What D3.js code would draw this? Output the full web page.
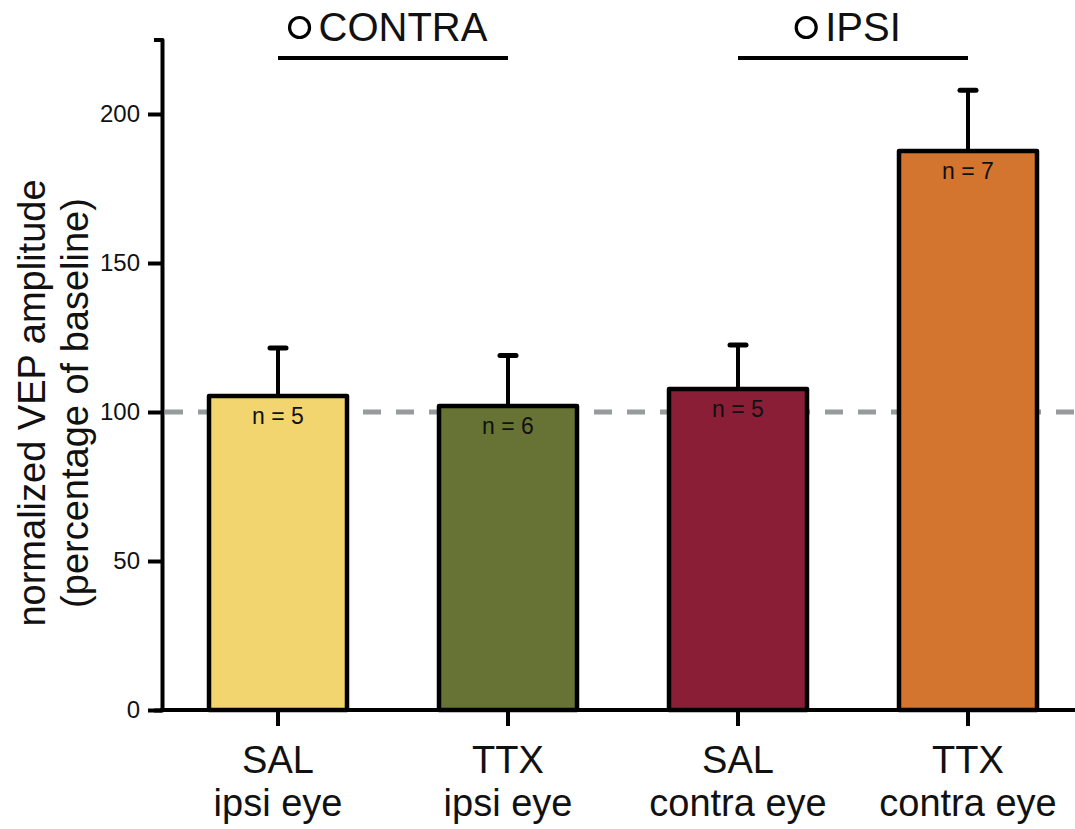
<!DOCTYPE html>
<html>
<head>
<meta charset="utf-8">
<script src="https://cdn.jsdelivr.net/npm/d3@7"></script>
<style>
  html, body { margin: 0; padding: 0; background: #fff; }
  svg { display: block; font-family: "Liberation Sans", Arial, Helvetica, sans-serif; }
</style>
</head>
<body>
<svg id="chart" width="1075" height="829"></svg>
<script>
// Treatment and recorded eye for each bar
const treatments = ["SAL", "TTX", "SAL", "TTX"];
const eyes = ["ipsi eye", "ipsi eye", "contra eye", "contra eye"];
// Normalized VEP amplitude (% of baseline), mean and SEM
const means = [105.4, 102.0, 107.7, 187.6];
const sems = [16.1, 17.0, 14.8, 20.4];
const nCounts = [5, 6, 5, 7];
const barColors = ["#f3d570", "#677334", "#8b1e37", "#d3742f"];
// Hemisphere groups: label and the bars each one spans
const hemiLabels = ["CONTRA", "IPSI"];
const hemiSpans = [[0, 1], [2, 3]];
const yTicks = [0, 50, 100, 150, 200];
const baseline = 100;

const svg = d3.select("#chart");
const W = 1075;
const ids = d3.range(treatments.length);

const x = d3.scaleBand().domain(ids).range([163, 1083]).paddingInner(0.4).paddingOuter(0.2);
const y = d3.scaleLinear().domain([0, 225]).range([710, 39.5]);
const cx = i => x(i) + x.bandwidth() / 2;

// Baseline reference line
svg.append("line")
  .attr("x1", 165).attr("x2", W)
  .attr("y1", y(baseline)).attr("y2", y(baseline))
  .attr("stroke", "#979b9b").attr("stroke-width", 5)
  .attr("stroke-dasharray", "18 15");

// Bars
svg.selectAll("rect.bar").data(ids).join("rect")
  .attr("class", "bar")
  .attr("x", i => x(i))
  .attr("width", x.bandwidth())
  .attr("y", i => y(means[i]))
  .attr("height", i => y(0) - y(means[i]))
  .attr("fill", i => barColors[i])
  .attr("stroke", "#000").attr("stroke-width", 4.5)
  .attr("stroke-linejoin", "round");

// Error bars (upper SEM)
const err = svg.append("g").attr("stroke", "#000").attr("stroke-linecap", "round");
err.selectAll("line.stem").data(ids).join("line")
  .attr("class", "stem")
  .attr("x1", cx).attr("x2", cx)
  .attr("y1", i => y(means[i])).attr("y2", i => y(means[i] + sems[i]))
  .attr("stroke-width", 4);
err.selectAll("line.cap").data(ids).join("line")
  .attr("class", "cap")
  .attr("x1", i => cx(i) - 8).attr("x2", i => cx(i) + 8)
  .attr("y1", i => y(means[i] + sems[i])).attr("y2", i => y(means[i] + sems[i]))
  .attr("stroke-width", 5);

// Sample sizes inside the bars
svg.selectAll("text.n").data(ids).join("text")
  .attr("class", "n")
  .attr("x", cx)
  .attr("y", i => y(means[i]) + 28)
  .attr("text-anchor", "middle")
  .attr("font-size", 23)
  .attr("fill", "#111")
  .text(i => "n = " + nCounts[i]);

// Y axis
const yAxis = svg.append("g")
  .attr("transform", "translate(162,0)")
  .call(d3.axisLeft(y).tickValues(yTicks).tickSize(14).tickSizeOuter(8).tickPadding(8));
yAxis.select(".domain").attr("stroke-width", 4).attr("stroke-linejoin", "round");
yAxis.selectAll(".tick line").attr("stroke-width", 4);
yAxis.selectAll(".tick text")
  .attr("font-family", "Liberation Sans, Arial, sans-serif")
  .attr("font-size", 24).attr("fill", "#111");

// X axis
svg.append("line")
  .attr("x1", 160).attr("x2", W)
  .attr("y1", y(0)).attr("y2", y(0))
  .attr("stroke", "#000").attr("stroke-width", 4);
const xAxis = svg.append("g")
  .attr("transform", `translate(0,${y(0)})`)
  .call(d3.axisBottom(x).tickSize(16).tickSizeOuter(0).tickFormat(""));
xAxis.select(".domain").remove();
xAxis.selectAll(".tick line").attr("stroke-width", 4);

const xl = svg.append("g").attr("font-size", 38).attr("fill", "#111").attr("text-anchor", "middle");
xl.selectAll("text.tr").data(ids).join("text")
  .attr("class", "tr").attr("x", cx).attr("y", 773).text(i => treatments[i]);
xl.selectAll("text.eye").data(ids).join("text")
  .attr("class", "eye").attr("x", cx).attr("y", 816).text(i => eyes[i]);

// Y axis title
const yt = svg.append("text")
  .attr("transform", "translate(0,403) rotate(-90)")
  .attr("text-anchor", "middle")
  .attr("font-size", 38).attr("fill", "#111");
yt.append("tspan").attr("x", 0).attr("y", 45).text("normalized VEP amplitude");
yt.append("tspan").attr("x", 0).attr("y", 88).text("(percentage of baseline)");

// Hemisphere labels over their bar pairs
hemiLabels.forEach((label, k) => {
  const [a, b] = hemiSpans[k];
  const x1 = cx(a), x2 = cx(b);
  svg.append("line")
    .attr("x1", x1).attr("x2", x2)
    .attr("y1", 58).attr("y2", 58)
    .attr("stroke", "#000").attr("stroke-width", 4);
  const g = svg.append("g");
  const t = g.append("text")
    .attr("x", (x1 + x2) / 2 + 10)
    .attr("y", 41)
    .attr("text-anchor", "middle")
    .attr("font-size", 40).attr("fill", "#111")
    .text(label);
  const tw = t.node().getComputedTextLength();
  const textLeft = (x1 + x2) / 2 + 10 - tw / 2;
  g.append("circle")
    .attr("cx", textLeft - 19).attr("cy", 27.5).attr("r", 10)
    .attr("fill", "none").attr("stroke", "#000").attr("stroke-width", 3.2);
});
</script>
</body>
</html>
